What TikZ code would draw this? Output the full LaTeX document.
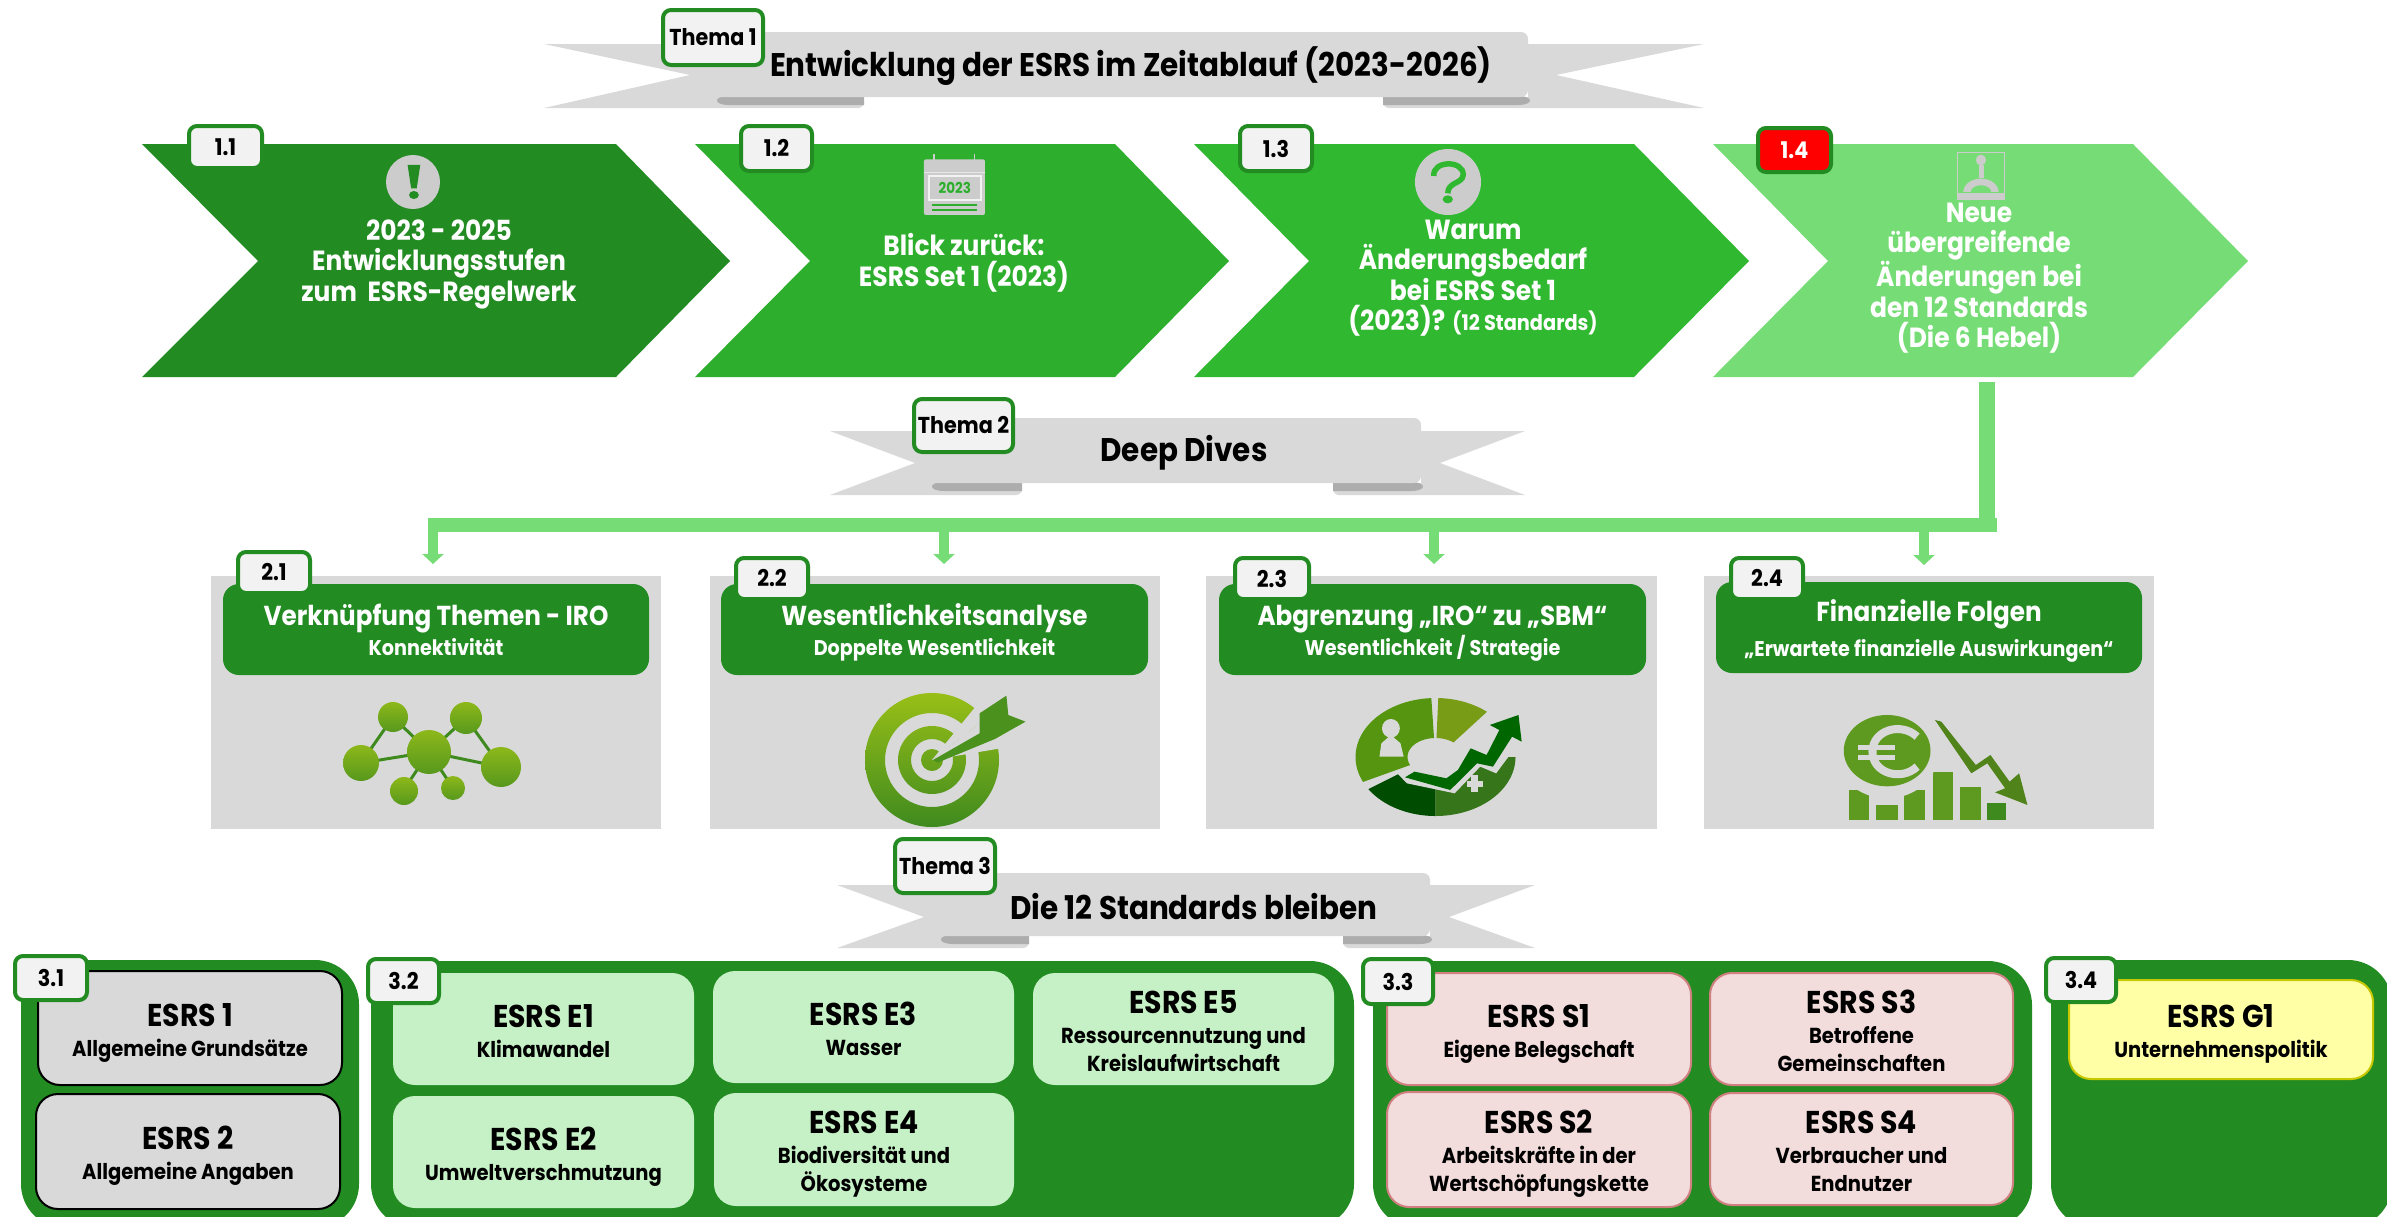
\documentclass[tikz,border=0pt]{standalone}
\usepackage{fontspec}
\setmainfont{Poppins}[FakeStretch=0.9]
\usetikzlibrary{arrows.meta,calc,shapes.geometric}
\definecolor{gA}{HTML}{228B22}
\definecolor{gB}{HTML}{2DAF2D}
\definecolor{gC}{HTML}{30B930}
\definecolor{gD}{HTML}{76DD76}
\definecolor{cardgray}{HTML}{D9D9D9}
\definecolor{iconlt}{HTML}{CCCCCC}
\definecolor{folddark}{HTML}{ADADAD}
\definecolor{tagfill}{HTML}{F2F2F2}
\definecolor{envfill}{HTML}{C6F1C6}
\definecolor{socfill}{HTML}{F2DCDC}
\definecolor{socline}{HTML}{D08080}
\definecolor{govfill}{HTML}{FFFFA6}
\definecolor{govline}{HTML}{C8C800}
\definecolor{iconA}{HTML}{8DB81A}
\definecolor{iconB}{HTML}{3F8A1E}
\definecolor{iconC}{HTML}{5F9A20}
\tikzset{
  x=1pt,y=-1pt,
  boxbase/.style={inner sep=0pt,outer sep=0pt,align=center,text=black,font=\bfseries\fontsize{20}{28}\selectfont},
  tagbox/.style={boxbase,rounded corners=8pt,draw=gA,line width=4pt,fill=tagfill},
  redtag/.style={tagbox,fill=red,text=white},
  hdr/.style={boxbase,rounded corners=16pt,fill=gA,text=white,font=\bfseries\fontsize{20}{30}\selectfont},
  cardbox/.style={boxbase,fill=cardgray},
  panel/.style={boxbase,rounded corners=44pt,fill=gA},
  grayitem/.style={boxbase,rounded corners=22pt,fill=cardgray,draw=black,line width=2pt},
  envitem/.style={boxbase,rounded corners=22pt,fill=envfill},
  socitem/.style={boxbase,rounded corners=22pt,fill=socfill,draw=socline,line width=2pt},
  govitem/.style={boxbase,rounded corners=22pt,fill=govfill,draw=govline,line width=2pt},
  chevtext/.style={inner sep=0pt,align=center,text=white,font=\bfseries\fontsize{27.7}{30.5}\selectfont},
  bannertext/.style={inner sep=0pt,text=black,font=\bfseries\fontsize{32.7}{36}\selectfont},
  mainline/.style={draw=gD,line cap=butt},
  branch/.style={draw=gD,line width=10pt,-{Triangle[width=21pt,length=10pt]}},
}
\newcommand{\boxnode}[7][tagbox]{%
  \pgfmathsetmacro{\bw}{#5-#3}\pgfmathsetmacro{\bh}{#6-#4}%
  \pgfmathsetmacro{\bx}{(#5+#3)/2}\pgfmathsetmacro{\by}{(#6+#4)/2}%
  \node[#1,minimum width=\bw pt,minimum height=\bh pt] (#2) at (\bx,\by) {#7};}
\newcommand{\tagnode}[7][tagbox]{%
  \pgfmathsetmacro{\tw}{#5-#3-4}\pgfmathsetmacro{\thh}{#6-#4-4}%
  \pgfmathsetmacro{\tx}{(#5+#3)/2}\pgfmathsetmacro{\ty}{(#6+#4)/2}%
  \node[#1,minimum width=\tw pt,minimum height=\thh pt,font=\bfseries\fontsize{23}{26}\selectfont] (#2) at (\tx,\ty) {#7};}
\newcommand{\chev}[8]{% colour,left,notch,topright,tip,top,mid,bot
  \fill[#1] (#2,#6) -- (#4,#6) -- (#5,#7) -- (#4,#8) -- (#2,#8) -- (#3,#7) -- cycle;}
\newcommand{\ribbon}[8]{%
  \fill[cardgray] (#1,\rA) -- (#2,\rM) -- (#1,\rC) [rounded corners=6pt] -- (#4,\rC) -- (#4,\rB) [sharp corners] -- (#3,\rB) -- (#3,\rA) -- cycle;
  \fill[cardgray] (#8,\rA) -- (#7,\rM) -- (#8,\rC) [rounded corners=6pt] -- (#5,\rC) -- (#5,\rB) [sharp corners] -- (#6,\rB) -- (#6,\rA) -- cycle;
  \pgfmathsetmacro{\fy}{\rB-1}\pgfmathsetmacro{\fz}{\rB+8}%
  \pgfmathsetmacro{\fr}{#3+10}\pgfmathsetmacro{\fs}{#6-10}%
  \fill[folddark] (#4,\fy) -- (\fr,\fy) .. controls (#3-6,\fy) and (#3-6,\fz) .. (\fr,\fz) -- (#4,\fz) -- cycle;
  \fill[folddark] (#5,\fy) -- (\fs,\fy) .. controls (#6+6,\fy) and (#6+6,\fz) .. (\fs,\fz) -- (#5,\fz) -- cycle;
  \fill[cardgray,rounded corners=7pt] (#3,\rB) -- (#3,\rT) -- (#6,\rT) -- (#6,\rB) [sharp corners] -- cycle;
}
\newcommand{\annseg}[9]{% cx cy rx ry rxi ryi a b colour
  \fill[#9] plot[domain=#7:#8,samples=30] ({#1+#3*cos(\x)},{#2-#4*sin(\x)}) -- plot[domain=#8:#7,samples=30] ({#1+#5*cos(\x)},{#2-#6*sin(\x)}) -- cycle;}
\newcommand{\ttl}{\fontsize{31.5}{28}\selectfont\rule{0pt}{33pt}}
\newcommand{\sbt}{\fontsize{21.7}{28}\selectfont\rule[-7pt]{0pt}{7pt}}
\newcommand{\hT}{\fontsize{27.4}{30}\selectfont\rule{0pt}{28pt}}
\newcommand{\hS}{\fontsize{21.3}{30}\selectfont\rule[-6pt]{0pt}{6pt}}
\begin{document}
\begin{tikzpicture}
\useasboundingbox (0,0) rectangle (2387,1216);
% ---- Banner 1
\def\rT{32}\def\rA{44}\def\rM{75}\def\rB{97}\def\rC{108}
\ribbon{544}{690}{719}{864}{1383}{1528}{1556}{1704}
\node[bannertext] (b1) at (1131,66) {Entwicklung der ESRS im Zeitablauf (2023-2026)};
\tagnode{th1}{661}{8}{765}{67}{Thema 1}
% ---- Chevrons
\chev{gA}{142}{258}{616}{730}{144}{261}{377}
\chev{gB}{695}{810}{1115}{1229}{144}{261}{377}
\chev{gC}{1194}{1309}{1634}{1749}{144}{261}{377}
\chev{gD}{1713}{1828}{2133}{2248}{144}{261}{377}
\node[chevtext] (c11) at (439,264) {2023 - 2025\\Entwicklungsstufen\\zum\ \ ESRS-Regelwerk};
\node[chevtext] (c12) at (964,263) {Blick zurück:\\ESRS Set 1 (2023)};
\node[chevtext] (c13) at (1473,278) {Warum\\Änderungsbedarf\\bei ESRS Set 1\\(2023)? {\fontsize{21.5}{30.5}\selectfont (12 Standards)}};
\node[chevtext] (c14) at (1979,278) {Neue\\übergreifende\\Änderungen bei\\den 12 Standards\\(Die 6 Hebel)};
\tagnode{t11}{187}{124}{264}{170}{1.1}
\tagnode{t12}{739}{124}{814}{173}{1.2}
\tagnode{t13}{1238}{124}{1314}{173}{1.3}
\tagnode[redtag]{t14}{1756}{126}{1833}{174}{1.4}
% icon 1.1
\fill[iconlt] (413,182) circle [radius=27];
\begin{scope}[shift={(120,110)},x=0.7015pt,y=-0.3333pt]
  \fill[gA] (410,165) -- (428,165) -- (423,235) -- (415,235) -- cycle;
  \fill[gA] (419,255) ellipse [x radius=7,y radius=12];
  % icon 1.2 calendar
  \fill[iconlt,rounded corners=2pt] (1146,148) rectangle (1233,315);
  \draw[iconlt,line width=1.5pt] (1160,133) -- (1160,160);
  \draw[iconlt,line width=1.5pt] (1218,133) -- (1218,160);
  \fill[tagfill!70!iconlt] (1146,185) rectangle (1233,190);
  \draw[tagfill,line width=1.5pt] (1153,198) rectangle (1227,270);
  \node[inner sep=0pt,text=gB,font=\bfseries\fontsize{15}{16}\selectfont] (cal) at (1190,235) {2023};
  \fill[gB] (1158,283) rectangle (1222,288);
  \fill[gB] (1158,298) rectangle (1222,303);
\end{scope}
% icon 1.3 and 1.4
\fill[iconlt] (1448,182) circle [radius=33];
\begin{scope}[shift={(1150,110)},x=0.7334pt,y=-0.3333pt]
  \draw[gC,line width=5.5pt] (387,198) .. controls (385,150) and (428,150) .. (427,195) .. controls (426,222) and (406,215) .. (406,250);
  \fill[gC] (406,268) ellipse [x radius=7,y radius=12];
  \draw[iconlt,line width=1.6pt] (1101,128) rectangle (1165,268);
  \fill[iconlt] (1101,250) rectangle (1165,270);
  \fill[iconlt] (1130,165) rectangle (1137,205);
  \fill[iconlt] (1133,150) ellipse [x radius=7,y radius=16];
  \annseg{1133}{246}{24}{40}{14}{20}{0}{180}{iconlt}
\end{scope}
% ---- Banner 2
\def\rT{418}\def\rA{431}\def\rM{463}\def\rB{483}\def\rC{495}
\ribbon{830}{915}{934}{1022}{1333}{1421}{1440}{1525}
\node[bannertext] (b2) at (1184,453) {Deep Dives};
\tagnode{th2}{912}{397}{1015}{454}{Thema 2}
% ---- Connectors
\coordinate (out14) at (1987,382);
\coordinate (busR) at (1987,525);
\coordinate (busE) at (1997,525);
\coordinate (busL) at (428,525);
\coordinate (b21) at (433,531); \coordinate (a21) at (433,564);
\coordinate (b22) at (944,531); \coordinate (a22) at (944,564);
\coordinate (b23) at (1434,531); \coordinate (a23) at (1434,564);
\coordinate (b24) at (1924,531); \coordinate (a24) at (1924,565);
\draw[mainline,line width=16pt] (out14) -- (busR);
\draw[mainline,line width=14pt] (busE) -- (busL);
\foreach \n in {21,22,23,24} {\draw[branch] (b\n) -- (a\n);}
% ---- Deep dive cards
\boxnode[cardbox]{card21}{211}{576}{661}{829}{}
\boxnode[cardbox]{card22}{710}{576}{1160}{829}{}
\boxnode[cardbox]{card23}{1206}{576}{1657}{829}{}
\boxnode[cardbox]{card24}{1704}{576}{2154}{829}{}
\boxnode[hdr]{h21}{223}{584}{649}{675}{\hT Verknüpfung Themen - IRO\\\hS Konnektivität}
\boxnode[hdr]{h22}{721}{584}{1148}{675}{\hT Wesentlichkeitsanalyse\\\hS Doppelte Wesentlichkeit}
\boxnode[hdr]{h23}{1219}{584}{1646}{675}{\hT Abgrenzung „IRO“ zu „SBM“\\\hS Wesentlichkeit / Strategie}
\boxnode[hdr]{h24}{1716}{582}{2142}{673}{\hT Finanzielle Folgen\\[5pt]\hS „Erwartete finanzielle Auswirkungen“}
\tagnode{t21}{236}{550}{312}{595}{2.1}
\tagnode{t22}{734}{556}{810}{601}{2.2}
\tagnode{t23}{1233}{556}{1311}{601}{2.3}
\tagnode{t24}{1729}{556}{1805}{601}{2.4}
% icon 2.1 network
\begin{scope}[iconB,line width=3pt]
  \draw (429,752) -- (393,717) -- (361,763) -- (429,752) -- (403,791);
  \draw (429,752) -- (466,718) -- (501,767) -- (429,752) -- (453,788);
\end{scope}
\foreach \cx/\cy/\r in {429/752/22,393/717/15,466/718/16,361/763/18,501/767/20,404/791/14,453/788/12}
  {\path[top color=iconA,bottom color=iconB!70!iconA] (\cx,\cy) circle [radius=\r];}
% icon 2.2 target
\path[even odd rule,top color=iconA!90!yellow,bottom color=iconB]
   (932,760) circle [radius=67] (932,760) circle [radius=47]
   (932,760) circle [radius=34] (932,760) circle [radius=21]
   (932,760) circle [radius=11];
\fill[cardgray] (932,760) -- (1010,700) -- (1020,745) -- cycle;
\fill[cardgray] (932,760) -- (985,695) -- (1010,700) -- cycle;
\begin{scope}[shift={(190,540)},x=0.6378pt,y=-0.3333pt]
  \fill[iconB!85!iconA] (1165,660) -- (1172,668) -- (1262,597) -- (1310,545) -- (1283,525) -- (1280,467) -- (1238,520) -- (1238,580) -- cycle;
\end{scope}
% icon 2.3 donut
\annseg{1435.5}{757}{80}{59}{28}{19}{93}{205}{iconA!80!green!75!black}
\annseg{1435.5}{757}{80}{59}{28}{19}{50}{88}{iconA!85!black}
\annseg{1435.5}{757}{80}{59}{28}{19}{213}{270}{green!30!black}
\annseg{1435.5}{757}{80}{59}{28}{19}{270}{360}{iconB!85!black}
\begin{scope}[shift={(1190,540)},x=0.6378pt,y=-0.3333pt]
  \fill[cardgray] (325,700) -- (345,680) -- (400,705) -- (415,680) -- (435,610) -- (465,630) -- (478,575) -- (455,555) -- (525,510) -- (530,640) -- (515,610) -- (480,700) -- (455,680) -- (415,760) -- (340,730) -- cycle;
  \fill[green!40!black] (337,712) -- (352,695) -- (402,715) -- (420,690) -- (440,625) -- (465,645) -- (485,570) -- (470,555) -- (515,525) -- (520,605) -- (505,590) -- (475,680) -- (450,670) -- (408,750) -- cycle;
  \fill[cardgray] (315,565) ellipse [x radius=14,y radius=28];
  \fill[cardgray] (297,650) -- (300,610) -- (315,585) -- (330,610) -- (335,650) -- cycle;
  \fill[cardgray] (440,705) rectangle (452,755);
  \fill[cardgray] (435,722) rectangle (460,740);
\end{scope}
% icon 2.4 euro
\begin{scope}[shift={(1190,540)},x=0.6378pt,y=-0.3333pt]
  \fill[iconC] (1033,750) rectangle (1065,840);
  \fill[iconC] (1075,795) rectangle (1110,840);
  \fill[iconC] (1120,750) rectangle (1152,840);
  \fill[iconC] (1165,695) rectangle (1197,840);
  \fill[iconC] (1207,740) rectangle (1240,840);
  \fill[iconB] (1250,790) rectangle (1280,840);
  \fill[cardgray] (1093,640) ellipse [x radius=80,y radius=135];
  \fill[iconC] (1093,632) ellipse [x radius=68,y radius=107];
  \draw[cardgray,line width=8pt] (1140,590) .. controls (1115,545) and (1070,570) .. (1070,635) .. controls (1070,700) and (1115,725) .. (1140,680);
  \fill[cardgray] (1048,615) rectangle (1105,630);
  \fill[cardgray] (1048,645) rectangle (1105,660);
  \fill[iconC!85!black] (1168,540) -- (1178,545) -- (1232,675) -- (1255,645) -- (1285,725) -- (1300,700) -- (1313,795) -- (1262,757) -- (1278,745) -- (1250,670) -- (1225,700) -- cycle;
\end{scope}
% ---- Banner 3
\def\rT{873}\def\rA{885}\def\rM{917}\def\rB{936}\def\rC{948}
\ribbon{837}{924}{943}{1029}{1343}{1430}{1449}{1535}
\node[bannertext] (b3) at (1194,907) {Die 12 Standards bleiben};
\tagnode{th3}{893}{837}{997}{895}{Thema 3}
% ---- Bottom panels
\begin{scope}
\clip (0,0) rectangle (2387,1216);
\boxnode[panel]{p31}{21}{960}{359}{1228}{}
\boxnode[panel]{p32}{371}{961}{1354}{1228}{}
\boxnode[panel]{p33}{1373}{961}{2032}{1228}{}
\boxnode[panel]{p34}{2051}{960}{2392}{1228}{}
\end{scope}
\boxnode[grayitem]{e1}{38}{971}{342}{1085}{\ttl ESRS 1\\[2pt]\sbt Allgemeine Grundsätze}
\boxnode[grayitem]{e2}{36}{1094}{340}{1209}{\ttl ESRS 2\\[2pt]\sbt Allgemeine Angaben}
\boxnode[envitem]{ee1}{393}{973}{694}{1085}{\ttl ESRS E1\\[2pt]\sbt Klimawandel}
\boxnode[envitem]{ee3}{713}{971}{1014}{1083}{\ttl ESRS E3\\[2pt]\sbt Wasser}
\boxnode[envitem]{ee2}{393}{1096}{694}{1208}{\ttl ESRS E2\\[2pt]\sbt Umweltverschmutzung}
\boxnode[envitem]{ee4}{714}{1093}{1014}{1206}{\ttl ESRS E4\\[2pt]\sbt Biodiversität und\\\sbt Ökosysteme}
\boxnode[envitem]{ee5}{1033}{973}{1334}{1085}{\ttl ESRS E5\\[2pt]\sbt Ressourcennutzung und\\\sbt Kreislaufwirtschaft}
\boxnode[socitem]{s1}{1387}{973}{1691}{1085}{\ttl ESRS S1\\[2pt]\sbt Eigene Belegschaft}
\boxnode[socitem]{s3}{1710}{973}{2013}{1085}{\ttl ESRS S3\\[2pt]\sbt Betroffene\\\sbt Gemeinschaften}
\boxnode[socitem]{s2}{1387}{1092}{1691}{1207}{\ttl ESRS S2\\[2pt]\sbt Arbeitskräfte in der\\\sbt Wertschöpfungskette}
\boxnode[socitem]{s4}{1710}{1093}{2013}{1205}{\ttl ESRS S4\\[2pt]\sbt Verbraucher und\\\sbt Endnutzer}
\boxnode[govitem]{g1}{2069}{980}{2373}{1079}{\ttl ESRS G1\\[2pt]\sbt Unternehmenspolitik}
\tagnode{t31}{13}{954}{89}{1002}{3.1}
\tagnode{t32}{366}{957}{441}{1005}{3.2}
\tagnode{t33}{1361}{957}{1435}{1006}{3.3}
\tagnode{t34}{2044}{956}{2118}{1004}{3.4}
\end{tikzpicture}
\end{document}
